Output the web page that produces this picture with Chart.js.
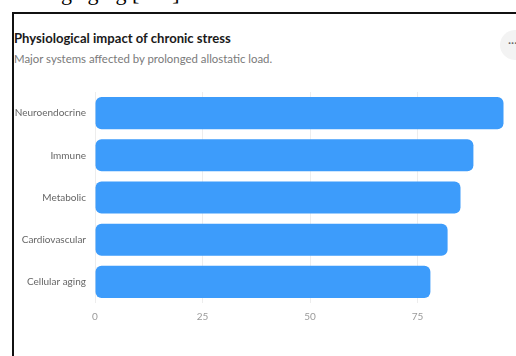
<!DOCTYPE html>
<html>
<head>
<meta charset="utf-8">
<script src="https://cdn.jsdelivr.net/npm/chart.js@4.4.1/dist/chart.umd.min.js"></script>
<style>
  html, body { margin: 0; padding: 0; background: #fff; width: 516px; height: 356px; overflow: hidden; position: relative; }
  .clip { position: absolute; left: 44px; top: -20px; font-family: "Liberation Serif", serif; font-size: 22px; color: #000; white-space: nowrap; }
  .card { position: absolute; left: 12px; top: 12px; width: 600px; height: 500px; border-left: 2px solid #111; border-top: 2px solid #111; box-sizing: border-box; }
  .title { position: absolute; left: 14px; top: 30px; font-family: Lato, sans-serif; font-weight: 700; font-size: 13.1px; color: #1a1a1a; white-space: nowrap; }
  .sub { position: absolute; left: 14px; top: 52px; font-family: Lato, sans-serif; font-size: 11.4px; color: #7a7a7a; white-space: nowrap; }
  .more { position: absolute; left: 500px; top: 30px; width: 30px; height: 30px; border-radius: 50%; background: #f3f3f3; color: #666; font-family: Lato, sans-serif; font-size: 12px; line-height: 26px; text-indent: 8px; }
  .wrap { position: absolute; left: 0; top: 0; width: 560px; height: 356px; }
</style>
</head>
<body>
<div class="clip">ing aging [ &hellip; ]</div>
<div class="card"></div>
<div class="title">Physiological impact of chronic stress</div>
<div class="sub">Major systems affected by prolonged allostatic load.</div>
<div class="more">&middot;&middot;&middot;</div>
<div class="wrap"><canvas id="stressChart"></canvas></div>
<script>
// Données du graphique
var systems = ['Neuroendocrine', 'Immune', 'Metabolic', 'Cardiovascular', 'Cellular aging'];
var impact = [95, 88, 85, 82, 78];
var xTicks = [0, 25, 50, 75, 100];

var ctx = document.getElementById('stressChart').getContext('2d');
new Chart(ctx, {
    type: 'bar',
    data: {
        labels: systems,
        datasets: [{
            label: 'Impact',
            data: impact,
            backgroundColor: '#3d9cfb',
            borderRadius: 6,
            borderSkipped: false,
            barPercentage: 0.76,
            categoryPercentage: 1
        }]
    },
    options: {
        indexAxis: 'y',
        responsive: true,
        maintainAspectRatio: false,
        animation: false,
        layout: { padding: { left: 0, right: 35, top: 92, bottom: 25 } },
        plugins: {
            legend: { display: false },
            tooltip: { enabled: false }
        },
        scales: {
            x: {
                min: 0,
                max: 100,
                afterBuildTicks: function (scale) {
                    scale.ticks = xTicks.map(function (v) { return { value: v }; });
                },
                border: { display: false },
                grid: { color: 'rgba(0,0,0,0.07)', borderDash: [2, 3], drawTicks: false },
                ticks: { padding: 8, color: '#9a9a9a', font: { family: 'Lato', size: 10 } }
            },
            y: {
                afterFit: function (scale) { scale.width = 95; },
                border: { display: false },
                grid: { display: false, drawTicks: false },
                ticks: { padding: 9, color: '#666', font: { family: 'Lato', size: 10 } }
            }
        }
    }
});
</script>
</body>
</html>
